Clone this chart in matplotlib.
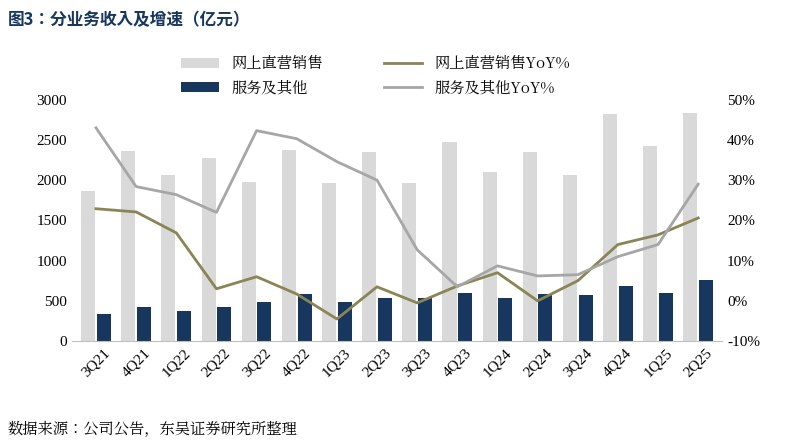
import matplotlib.pyplot as plt
import numpy as np
from matplotlib import font_manager
from matplotlib.ticker import FuncFormatter

quarters = ['3Q21', '4Q21', '1Q22', '2Q22', '3Q22', '4Q22', '1Q23', '2Q23',
            '3Q23', '4Q23', '1Q24', '2Q24', '3Q24', '4Q24', '1Q25', '2Q25']
online = [1870, 2360, 2060, 2270, 1980, 2380, 1970, 2350,
          1970, 2470, 2100, 2350, 2060, 2820, 2430, 2840]
services = [340, 430, 370, 430, 480, 590, 490, 540,
            540, 600, 530, 580, 570, 680, 600, 760]
online_yoy = [22.9, 22.1, 16.9, 3.0, 6.0, 1.7, -4.5, 3.5,
              -0.5, 3.7, 7.0, 0.0, 5.0, 14.0, 16.4, 20.6]
services_yoy = [43.0, 28.4, 26.4, 22.0, 42.3, 40.3, 34.6, 30.0,
                12.7, 3.5, 8.7, 6.2, 6.5, 11.0, 14.0, 29.0]

# find a CJK font file directly, name lookup was unreliable
cjk_files = [f for f in font_manager.findSystemFonts() if 'CJK' in f]
cjk_files.sort(key=lambda f: (('SC' not in f and 'CJK-Regular' not in f and 'CJK-Bold' not in f), 'Bold' in f))
if cjk_files:
    regular = [f for f in cjk_files if 'Bold' not in f] or cjk_files
    bold = [f for f in cjk_files if 'Bold' in f] or regular
    cjk = font_manager.FontProperties(fname=regular[0], size=11)
    cjk_bold = font_manager.FontProperties(fname=bold[0], size=12, weight='bold')
else:
    cjk = font_manager.FontProperties(family='Noto Sans CJK SC', size=11)
    cjk_bold = font_manager.FontProperties(family='Noto Sans CJK SC', size=12, weight='bold')
num = 'Liberation Serif'

fig = plt.figure(figsize=(7.99, 4.43), dpi=100)
ax = fig.add_axes([0.09, 0.23, 0.814, 0.545])
x = np.arange(len(quarters))
w = 0.35
ax.bar(x - w / 2 - 0.02, online, w, color='#d9d9d9', label='网上直营销售')
ax.bar(x + w / 2 + 0.02, services, w, color='#17375e', label='服务及其他')
ax.set_ylim(0, 3000)
ax.set_yticks(range(0, 3001, 500))
ax.set_xlim(-0.6, len(quarters) - 0.4)
ax.set_xticks(x)
ax.set_xticklabels(quarters, rotation=45, fontfamily=num, fontsize=11)
for lab in ax.get_yticklabels():
    lab.set_fontfamily(num)
    lab.set_fontsize(11)

ax2 = ax.twinx()
ax2.plot(x, online_yoy, color='#8b8455', lw=2, label='网上直营销售YoY%')
ax2.plot(x, services_yoy, color='#a6a6a6', lw=2, label='服务及其他YoY%')
ax2.set_ylim(-10, 50)
ax2.set_yticks(range(-10, 51, 10))
ax2.yaxis.set_major_formatter(FuncFormatter(lambda v, p: f'{v:.0f}%'))
for lab in ax2.get_yticklabels():
    lab.set_fontfamily(num)
    lab.set_fontsize(11)

for a in (ax, ax2):
    for s in ('top', 'right', 'left'):
        a.spines[s].set_visible(False)
    a.spines['bottom'].set_color('#bfbfbf')
    a.tick_params(length=0)
ax2.spines['bottom'].set_visible(False)

h1, l1 = ax.get_legend_handles_labels()
h2, l2 = ax2.get_legend_handles_labels()
fig.legend(h1 + h2, l1 + l2, ncol=2, loc='upper center', bbox_to_anchor=(0.47, 0.905),
           frameon=False, prop=cjk, columnspacing=4, handlelength=2.5)

fig.text(0.01, 0.955, '图3：分业务收入及增速（亿元）', fontproperties=cjk_bold,
         color='#17375e', va='center')
fig.text(0.01, 0.03, '数据来源：公司公告，东吴证券研究所整理', fontproperties=cjk,
         va='center')

fig.savefig('out.png', dpi=100)
